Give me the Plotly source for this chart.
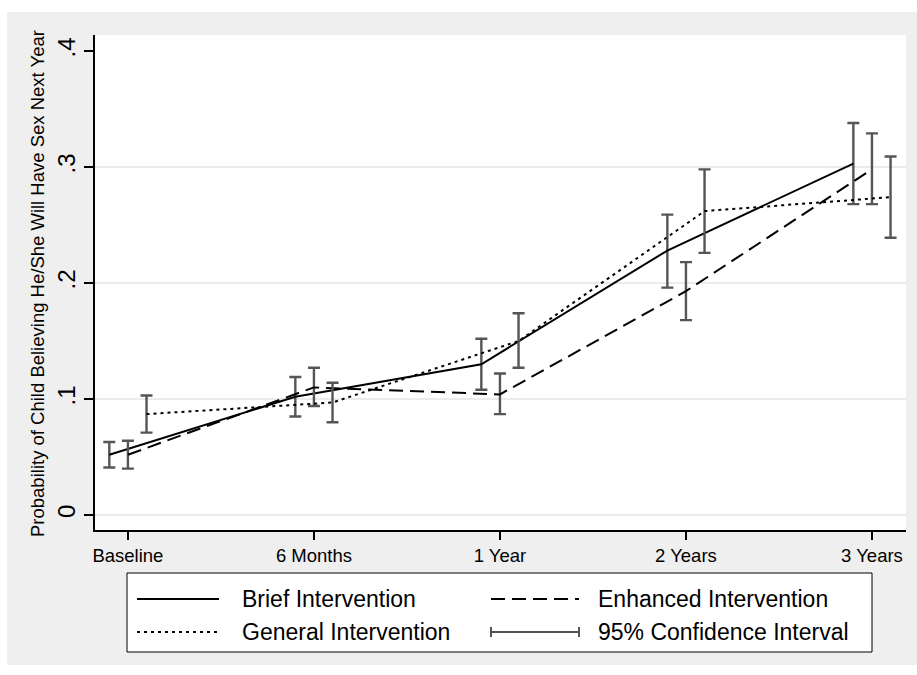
import plotly.graph_objects as go

# Follow-up waves and predicted probabilities with 95% confidence limits
periods = ["Baseline", "6 Months", "1 Year", "2 Years", "3 Years"]

brief = [0.052, 0.102, 0.130, 0.228, 0.303]
brief_lo = [0.041, 0.085, 0.108, 0.196, 0.268]
brief_hi = [0.063, 0.119, 0.152, 0.259, 0.338]

enhanced = [0.052, 0.110, 0.104, 0.193, 0.298]
enhanced_lo = [0.040, 0.094, 0.087, 0.168, 0.268]
enhanced_hi = [0.064, 0.127, 0.122, 0.218, 0.329]

general = [0.087, 0.097, 0.150, 0.262, 0.274]
general_lo = [0.071, 0.080, 0.127, 0.226, 0.239]
general_hi = [0.103, 0.114, 0.174, 0.298, 0.309]

y_ticks = [0, 0.1, 0.2, 0.3, 0.4]
y_tick_text = ["0", ".1", ".2", ".3", ".4"]
grid_levels = [0, 0.1, 0.2, 0.3]

FONT = "Liberation Sans, Arial, Helvetica, sans-serif"
CI_COLOR = "#555555"
BG_GRAY = "#efefef"

W, H = 917, 675
ML, MR, MT, MB = 95, 11, 35, 145


def px(x):
    return (x - ML) / (W - ML - MR)


def py(y):
    return (H - MB - y) / (H - MT - MB)


series = [
    ("Brief Intervention", brief, brief_lo, brief_hi, -0.1, "solid"),
    ("Enhanced Intervention", enhanced, enhanced_lo, enhanced_hi, 0.0, "14px,7px"),
    ("General Intervention", general, general_lo, general_hi, 0.1, "3px,4px"),
]

fig = go.Figure()
for name, vals, lo, hi, offset, dash in series:
    xs = [i + offset for i in range(len(periods))]
    fig.add_trace(go.Scatter(
        x=xs, y=vals, mode="lines", name=name,
        line=dict(color="black", width=2, dash=dash),
        error_y=dict(
            type="data", symmetric=False,
            array=[h - v for h, v in zip(hi, vals)],
            arrayminus=[v - l for v, l in zip(vals, lo)],
            color=CI_COLOR, thickness=2.4, width=6,
        ),
        showlegend=False,
    ))

shapes = []
# white page border around the gray panel
shapes.append(dict(type="rect", xref="paper", yref="paper",
                   x0=px(0), x1=px(W), y0=py(0), y1=py(12),
                   fillcolor="white", line=dict(width=0), layer="above"))
shapes.append(dict(type="rect", xref="paper", yref="paper",
                   x0=px(0), x1=px(7), y0=py(H), y1=py(0),
                   fillcolor="white", line=dict(width=0), layer="above"))
shapes.append(dict(type="rect", xref="paper", yref="paper",
                   x0=px(0), x1=px(W), y0=py(H), y1=py(665),
                   fillcolor="white", line=dict(width=0), layer="above"))

# horizontal grid lines
for g in grid_levels:
    shapes.append(dict(type="line", xref="paper", yref="y",
                       x0=0, x1=1, y0=g, y1=g,
                       line=dict(color="#e4e4e4", width=1.5), layer="below"))

# legend box
shapes.append(dict(type="rect", xref="paper", yref="paper",
                   x0=px(127), x1=px(872), y0=py(652), y1=py(573),
                   fillcolor="white", line=dict(color="black", width=1)))

row1, row2 = 599, 632
col1 = (137, 219)
col2 = (491, 579)
legend_items = [
    ("Brief Intervention", col1, row1, "solid", 240),
    ("Enhanced Intervention", col2, row1, "14px,7px", 596),
    ("General Intervention", col1, row2, "3px,4px", 240),
]
annotations = []
for label, (xa, xb), yy, dash, xt in legend_items:
    shapes.append(dict(type="line", xref="paper", yref="paper",
                       x0=px(xa), x1=px(xb), y0=py(yy), y1=py(yy),
                       line=dict(color="black", width=2, dash=dash)))
    annotations.append(dict(xref="paper", yref="paper", x=px(xt),
                            y=py(yy), text=label, showarrow=False,
                            xanchor="left", yanchor="middle",
                            font=dict(family=FONT, size=23, color="black")))

# confidence-interval key: horizontal bar with end caps
xa, xb = col2
shapes.append(dict(type="line", xref="paper", yref="paper",
                   x0=px(xa), x1=px(xb), y0=py(row2), y1=py(row2),
                   line=dict(color=CI_COLOR, width=2)))
for xc in (xa, xb):
    shapes.append(dict(type="line", xref="paper", yref="paper",
                       x0=px(xc), x1=px(xc), y0=py(row2 - 5), y1=py(row2 + 5),
                       line=dict(color=CI_COLOR, width=2)))
annotations.append(dict(xref="paper", yref="paper", x=px(596), y=py(row2),
                        text="95% Confidence Interval", showarrow=False,
                        xanchor="left", yanchor="middle",
                        font=dict(family=FONT, size=23, color="black")))

# y-axis title
annotations.append(dict(xref="paper", yref="paper", x=px(37), y=py(284),
                        text="Probability of Child Believing He/She Will Have Sex Next Year",
                        textangle=-90, showarrow=False,
                        xanchor="center", yanchor="middle",
                        font=dict(family=FONT, size=18.5, color="black")))

fig.update_layout(
    width=W, height=H,
    margin=dict(l=ML, r=MR, t=MT, b=MB, pad=0),
    paper_bgcolor=BG_GRAY, plot_bgcolor="white",
    font=dict(family=FONT, color="black"),
    shapes=shapes, annotations=annotations,
    showlegend=False,
)
fig.update_xaxes(
    range=[-0.177, 4.183],
    tickmode="array", tickvals=list(range(len(periods))), ticktext=periods,
    showgrid=False, zeroline=False,
    showline=True, linecolor="black", linewidth=1.5,
    ticks="outside", ticklen=8, tickwidth=1.5, tickcolor="black",
    tickfont=dict(family=FONT, size=18.5, color="black"),
)
fig.update_yaxes(
    range=[-0.0129, 0.4138],
    tickmode="array", tickvals=y_ticks, ticktext=y_tick_text,
    tickangle=-90,
    showgrid=False, zeroline=False,
    showline=True, linecolor="black", linewidth=1.5,
    ticks="outside", ticklen=9, tickwidth=1.5, tickcolor="black",
    tickfont=dict(family=FONT, size=24, color="black"),
)

fig.write_html("out.html")
